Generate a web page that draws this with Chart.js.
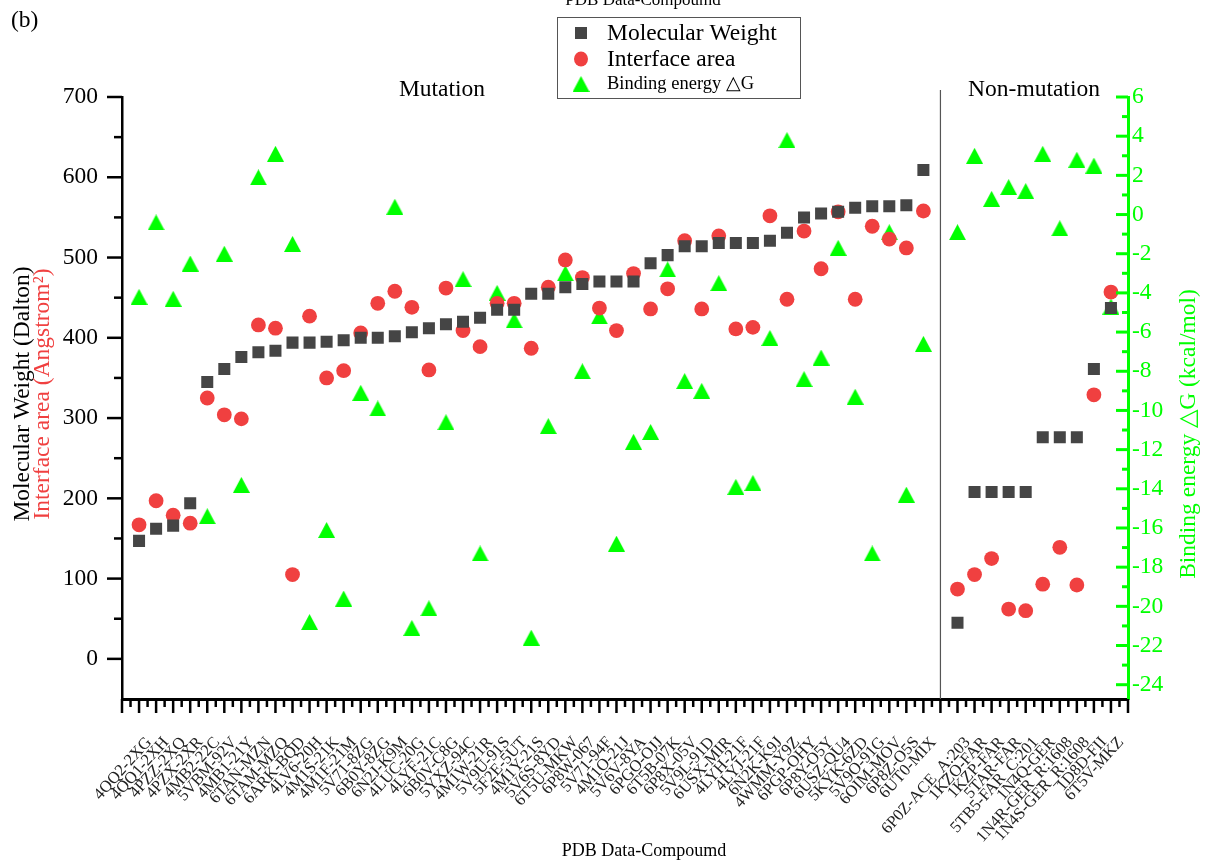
<!DOCTYPE html>
<html>
<head>
<meta charset="utf-8">
<script src="https://cdn.jsdelivr.net/npm/chart.js@4/dist/chart.umd.min.js"></script>
<style>
  body { margin: 0; background: #fff; }
  canvas { display: block; }
</style>
</head>
<body>
<canvas id="myChart" width="1213" height="863"></canvas>
<script>
// compounds
const mutationCompounds = ['4QQ2-2XG','4QQ1-2XH','4PZZ-2XQ','4PZX-2XR','4MB2-22C','5VBM-92V','4MB1-21Y','6TAN-MZN','6TAM-MZQ','6ARK-BQD',
  '4LV6-20H','4M1S-21K','4M1F-21M','5V71-8ZG','6B0Y-8ZG','6N2J-K9M','4LUC-20G','4LYF-21C','6B0V-C8G','5YXZ-94C',
  '4M1W-21R','5V9U-91S','5F2E-5UT','4M1Y-21S','5V6S-8YD','6T5U-MKW','6P8W-067','5V71-94F','4M1O-21J','5V6V-8YA',
  '6PGO-OJJ','6T5B-07K','6P8X-05V','5V9L-91D','6USX-MIR','4LYH-21F','4LYJ-21F','6N2K-K9J','4WMM-Y9Z','6PGP-OHY',
  '6P8Y-O5Y','6USZ-QU4','5KYK-6ZD','5V9O-91G','6OIM-MOV','6P8Z-O5S','6UT0-MIX'];
const nonMutationCompounds = ['6P0Z-ACE_A:203','1KZO-FAR','1KZP-FAR','5TAR-FAR','5TB5-FAR_C:201','1N4Q-GER',
  '1N4R-GER_R:1608','1N4S-GER_R:1608','1D8D-FII','6T5V-MKZ'];

// Molecular weight (Dalton)
const mwMutation = [147,162,166,194,345,361,376,382,384,394, 394,395,397,400,400,402,407,412,417,420,
  425,435,435,455,455,463,467,470,470,470, 493,503,514,514,518,518,518,521,531,550, 555,557,562,564,564,565,609];
const mwNonMutation = [45,208,208,208,208,276,276,276,361,437];

// Interface area (Angstrom^2)
const areaMutation = [167,197,179,169,325,304,299,416,412,105, 427,350,359,406,443,458,438,360,462,409,
  389,443,443,387,463,497,475,437,409,480, 436,461,521,436,527,411,413,552,448,533, 486,557,448,539,523,512,558];
const areaNonMutation = [87,105,125,62,60,93,139,92,329,457];

// Binding energy dG (kcal/mol)
const energyMutation = [-4.2,-0.4,-4.3,-2.5,-15.4,-2.0,-13.8,1.9,3.1,-1.5, -20.8,-16.1,-19.6,-9.1,-9.9,0.4,-21.1,-20.1,-10.6,-3.3,
  -17.3,-4.0,-5.4,-21.6,-10.8,-3.0,-8.0,-5.2,-16.8,-11.6, -11.1,-2.8,-8.5,-9.0,-3.5,-13.9,-13.7,-6.3,3.8,-8.4,
  -7.3,-1.7,-9.3,-17.3,-0.9,-14.3,-6.6];
const energyNonMutation = [-0.9,3.0,0.8,1.4,1.2,3.1,-0.7,2.8,2.5,-4.7];

// axis ticks
const leftTicks = [0,100,200,300,400,500,600,700];
const rightTicks = [-24,-22,-20,-18,-16,-14,-12,-10,-8,-6,-4,-2,0,2,4,6];

// blank slot at each end and one between the two groups
const labels = ['', ...mutationCompounds, '', ...nonMutationCompounds, ''];
function spread(a, b) { return [null, ...a, null, ...b, null]; }
const sepIndex = mutationCompounds.length + 1;

const SERIF = "'Liberation Serif', 'Times New Roman', serif";
const GREEN = '#00ff00';
const RED = '#f04040';
const GREY = '#454545';

// triangle marker centred on its bounding box (like Origin)
const tri = document.createElement('canvas');
tri.width = 17; tri.height = 16;
(function () {
  let c = tri.getContext('2d');
  c.fillStyle = GREEN;
  c.beginPath();
  c.moveTo(8.5, 0); c.lineTo(17, 16); c.lineTo(0, 16);
  c.closePath();
  c.fill();
})();

function marker(ctx, style, x, y) {
  ctx.save();
  if (style == 'rect') {
    ctx.fillStyle = GREY;
    ctx.fillRect(x - 6, y - 6, 12, 12);
  } else if (style == 'circle') {
    ctx.fillStyle = RED;
    ctx.beginPath();
    ctx.ellipse(x, y, 7, 7.5, 0, 0, Math.PI * 2);
    ctx.fill();
  } else {
    ctx.drawImage(tri, x - 8.5, y - 8);
  }
  ctx.restore();
}

// ticks, titles, legend and the group divider
const decorations = {
  id: 'decorations',
  afterDraw(chart) {
    const ctx = chart.ctx;
    const x = chart.scales.x, y = chart.scales.y, y2 = chart.scales.y2;
    const area = chart.chartArea;
    ctx.save();

    // left ticks (outward)
    ctx.strokeStyle = '#000';
    ctx.lineWidth = 2.5;
    for (let v = 0; v <= 700; v += 50) {
      const py = y.getPixelForValue(v);
      const len = v % 100 == 0 ? 15 : 8;
      ctx.beginPath(); ctx.moveTo(area.left, py); ctx.lineTo(area.left - len, py); ctx.stroke();
    }
    // bottom ticks (outward)
    for (let i = 0; i < labels.length; i++) {
      const px = x.getPixelForValue(i);
      ctx.beginPath(); ctx.moveTo(px, area.bottom); ctx.lineTo(px, area.bottom + 14); ctx.stroke();
      if (i < labels.length - 1) {
        const mx = (px + x.getPixelForValue(i + 1)) / 2;
        ctx.beginPath(); ctx.moveTo(mx, area.bottom); ctx.lineTo(mx, area.bottom + 8); ctx.stroke();
      }
    }
    // right ticks (inward, green)
    ctx.strokeStyle = GREEN;
    ctx.lineWidth = 3;
    for (let v = -24; v <= 6; v++) {
      const py = y2.getPixelForValue(v);
      const len = v % 2 == 0 ? 12 : 6;
      ctx.beginPath(); ctx.moveTo(area.right, py); ctx.lineTo(area.right - len, py); ctx.stroke();
    }

    // divider between mutation / non-mutation
    const sx = x.getPixelForValue(sepIndex);
    ctx.strokeStyle = '#555';
    ctx.lineWidth = 1.2;
    ctx.beginPath(); ctx.moveTo(sx, 90); ctx.lineTo(sx, area.bottom); ctx.stroke();

    ctx.textBaseline = 'middle';
    ctx.textAlign = 'center';
    ctx.fillStyle = '#000';
    ctx.font = '23.5px ' + SERIF;
    ctx.fillText('Mutation', 442, 90);
    ctx.fillText('Non-mutation', 1034, 90);
    ctx.textAlign = 'left';
    ctx.fillText('(b)', 11, 21);

    ctx.textAlign = 'center';
    ctx.font = '18px ' + SERIF;
    ctx.fillText('PDB Data-Compoumd', 644, 851);
    ctx.font = '17px ' + SERIF;
    ctx.fillText('PDB Data-Compoumd', 643, 1);

    // left axis titles, two colours
    ctx.save();
    ctx.translate(23, 394);
    ctx.rotate(-Math.PI / 2);
    ctx.font = '23.5px ' + SERIF;
    ctx.fillStyle = '#000';
    ctx.fillText('Molecular Weight (Dalton)', 0, 0);
    ctx.fillStyle = RED;
    ctx.fillText('Interface area (Angstrom\u00b2)', 0, 20);
    ctx.restore();

    // right axis title
    ctx.save();
    ctx.translate(1189, 434);
    ctx.rotate(-Math.PI / 2);
    ctx.font = '23.5px ' + SERIF;
    ctx.fillStyle = GREEN;
    ctx.fillText('Binding energy \u25b3G (kcal/mol)', 0, 0);
    ctx.restore();

    // legend box
    ctx.fillStyle = '#fff';
    ctx.fillRect(557, 17, 243, 81);
    ctx.strokeStyle = '#555';
    ctx.lineWidth = 1;
    ctx.strokeRect(557.5, 17.5, 243, 81);
    marker(ctx, 'rect', 581, 33);
    marker(ctx, 'circle', 581, 59);
    marker(ctx, 'triangle', 581, 84);
    ctx.textAlign = 'left';
    ctx.fillStyle = '#000';
    ctx.font = '23.5px ' + SERIF;
    ctx.fillText('Molecular Weight', 607, 34);
    ctx.fillText('Interface area', 607, 60);
    ctx.font = '18.5px ' + SERIF;
    ctx.fillText('Binding energy \u25b3G', 607, 84);

    ctx.restore();
  }
};

let ctx = document.getElementById('myChart').getContext('2d');
let myChart = new Chart(ctx, {
  type: 'line',
  data: {
    labels: labels,
    datasets: [{
      label: 'Molecular Weight',
      data: spread(mwMutation, mwNonMutation),
      yAxisID: 'y',
      showLine: false,
      pointStyle: 'rect',
      pointRadius: 8.5,
      pointBackgroundColor: GREY,
      pointBorderWidth: 0
    }, {
      label: 'Interface area',
      data: spread(areaMutation, areaNonMutation),
      yAxisID: 'y',
      showLine: false,
      pointStyle: 'circle',
      pointRadius: 7.4,
      pointBackgroundColor: RED,
      pointBorderWidth: 0
    }, {
      label: 'Binding energy \u25b3G',
      data: spread(energyMutation, energyNonMutation),
      yAxisID: 'y2',
      showLine: false,
      pointStyle: tri,
      pointRadius: 9,
      pointBorderWidth: 0
    }]
  },
  options: {
    responsive: false,
    devicePixelRatio: 1,
    animation: false,
    layout: { padding: { top: 97, left: 0, right: 0, bottom: 0 } },
    plugins: { legend: { display: false }, tooltip: { enabled: false } },
    scales: {
      x: {
        type: 'category',
        offset: false,
        grid: { display: false, drawTicks: false },
        border: { display: true, color: '#000', width: 3 },
        ticks: {
          autoSkip: false, minRotation: 48, maxRotation: 48, padding: 34, labelOffset: 10,
          color: '#222', font: { family: SERIF, size: 16.5 }
        },
        afterFit(s) { s.height = 164; }
      },
      y: {
        position: 'left',
        min: -50, max: 700,
        grid: { display: false, drawTicks: false },
        border: { display: true, color: '#000', width: 2.5 },
        ticks: { padding: 24, color: '#000', font: { family: SERIF, size: 23.5 } },
        afterBuildTicks(s) { s.ticks = leftTicks.map(v => ({ value: v })); },
        afterFit(s) { s.width = 122; }
      },
      y2: {
        position: 'right',
        min: -24.73, max: 6,
        grid: { display: false, drawTicks: false },
        border: { display: true, color: GREEN, width: 3 },
        ticks: { padding: 4, color: GREEN, font: { family: SERIF, size: 23.5 } },
        afterBuildTicks(s) { s.ticks = rightTicks.map(v => ({ value: v })); },
        afterFit(s) { s.width = 85; }
      }
    }
  },
  plugins: [decorations]
});
</script>
</body>
</html>
